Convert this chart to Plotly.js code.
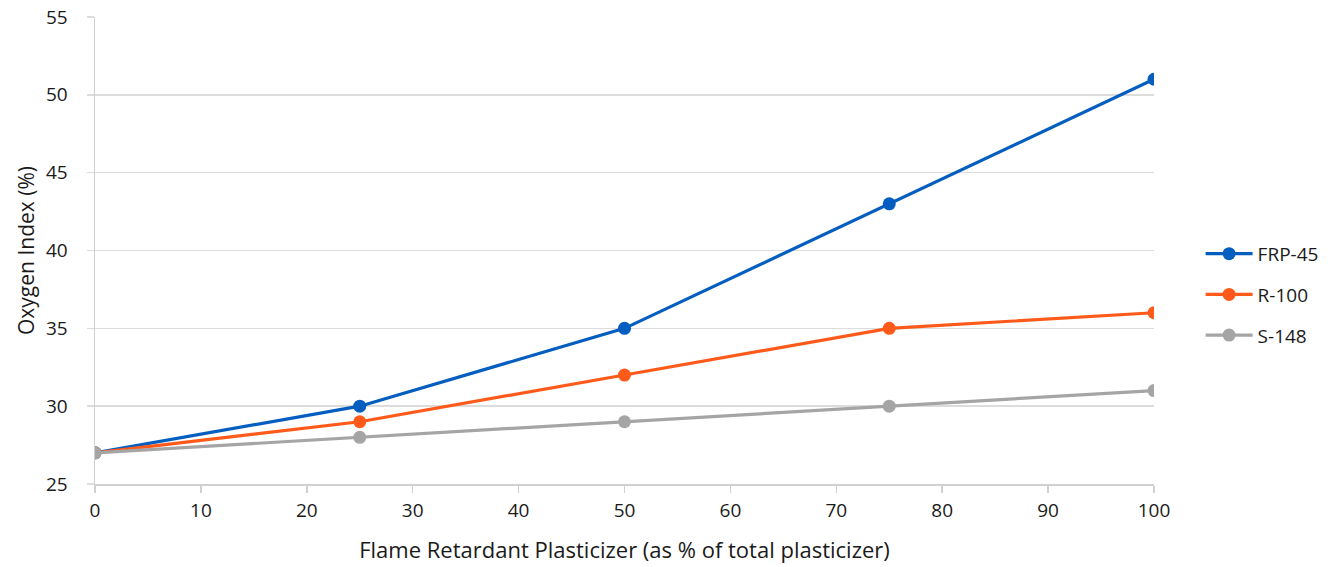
<!DOCTYPE html>
<html><head><meta charset="utf-8">
<script src="https://cdn.plot.ly/plotly-3.0.1.min.js"></script>
<style>html,body{margin:0;padding:0;background:#fff}#c{width:1330px;height:567px}</style>
</head><body><div id="c"></div>
<script>
const xValues = [0, 25, 50, 75, 100];
const frp45 = [27, 30, 35, 43, 51];
const r100 = [27, 29, 32, 35, 36];
const s148 = [27, 28, 29, 30, 31];
const seriesNames = ['FRP-45', 'R-100', 'S-148'];
const colors = ['#045EC0', '#FF5A1A', '#A5A5A5'];
const F = '"Open Sans", Lato, sans-serif';
const data = [frp45, r100, s148].map((ys, i) => ({
  x: xValues, y: ys, name: seriesNames[i], type: 'scatter', mode: 'lines+markers', legendgroup: 'g' + i,
  line: {color: colors[i], width: 3.2}, marker: {color: colors[i], size: 13}
}));
const layout = {
  width: 1330, height: 567,
  margin: {l: 95, r: 176, t: 17, b: 83, autoexpand: false},
  paper_bgcolor: '#fff', plot_bgcolor: '#fff',
  font: {family: F, color: '#1a1a1a', size: 19},
  showlegend: true,
  legend: {x: 1.044, xanchor: 'left', y: 0.405, yanchor: 'middle', traceorder: 'grouped', tracegroupgap: 13, itemwidth: 47, font: {size: 19}, bgcolor: 'rgba(0,0,0,0)'},
  xaxis: {range: [0, 100], dtick: 10, tick0: 0, showgrid: false, zeroline: false,
    showline: true, linecolor: '#d0d0d0', linewidth: 1.5, ticks: 'outside', ticklen: 7, tickcolor: '#d0d0d0', tickwidth: 1.5,
    ticklabelstandoff: 2,
    title: {text: 'Flame Retardant Plasticizer (as % of total plasticizer)', font: {size: 22}, standoff: 20},
    tickfont: {size: 19}},
  yaxis: {range: [25, 55], dtick: 5, tick0: 25, showgrid: true, gridcolor: '#dcdcdc', gridwidth: 1.5, zeroline: false,
    showline: true, linecolor: '#d0d0d0', linewidth: 1.5, ticks: 'outside', ticklen: 7, tickcolor: '#dcdcdc', tickwidth: 1.5,
    ticklabelstandoff: 15,
    title: {text: 'Oxygen Index (%)', font: {size: 21}, standoff: 5},
    tickfont: {size: 19}}
};
Plotly.newPlot('c', data, layout, {displayModeBar: false, staticPlot: true});
</script></body></html>
